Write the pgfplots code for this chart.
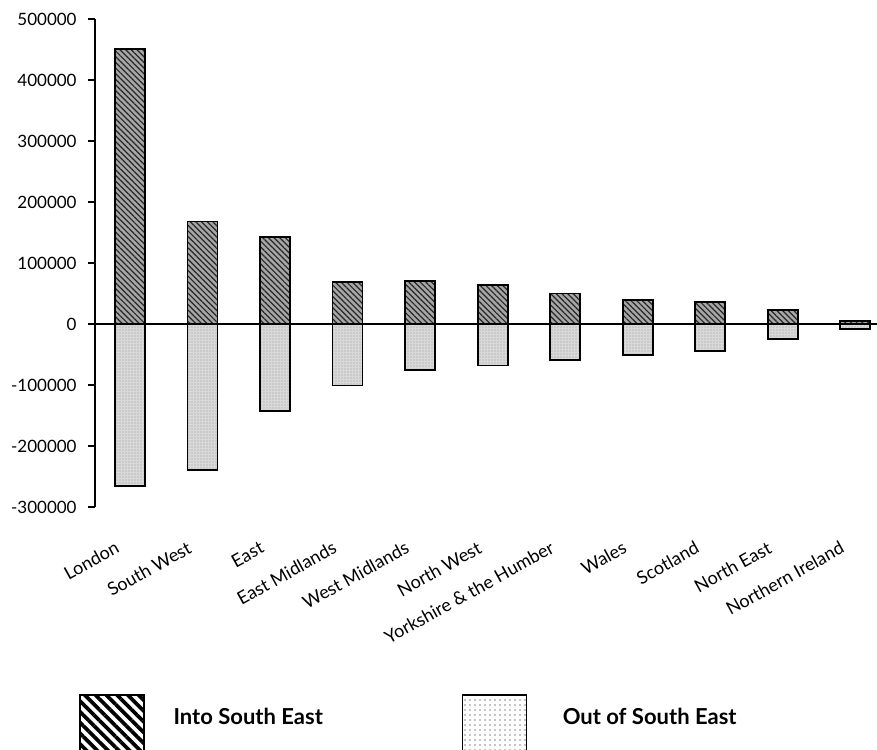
\documentclass[border=0pt]{standalone}
\usepackage{fontspec}
\setmainfont{Lato}
\usepackage{pgfplots}
\usepackage{pgfplotstable}
\pgfplotsset{compat=1.18}
\usetikzlibrary{patterns,patterns.meta}

% flows to and from the South East, by region
\pgfplotstableread{
idx into out
0 451000 -266000
1 168000 -240000
2 142000 -143000
3 69000 -101000
4 70000 -76000
5 64000 -68000
6 50000 -58500
7 39000 -50300
8 36600 -44300
9 23000 -25000
10 5000 -8000
}\flows

\begin{document}
\begin{tikzpicture}
\begin{axis}[
  width=391pt, height=244pt, scale only axis,
  xmin=-0.483, xmax=10.3,
  ymin=-300000, ymax=500000,
  scaled y ticks=false,
  axis y line*=left, axis x line*=bottom,
  x axis line style={draw=none},
  y axis line style={line width=0.75pt},
  ytick={-300000,-200000,-100000,0,100000,200000,300000,400000,500000},
  yticklabels={-300000,-200000,-100000,0,100000,200000,300000,400000,500000},
  tick align=outside,
  major tick length=3.5pt,
  ytick style={black, line width=0.75pt},
  xtick style={draw=none},
  yticklabel style={font=\fontsize{8.5}{10}\selectfont, inner sep=0pt, xshift=-5.5pt},
  xtick={0,1,2,3,4,5,6,7,8,9,10},
  xticklabels={London, South West, East, East Midlands, West Midlands, North West, Yorkshire \& the Humber, Wales, Scotland, North East, Northern Ireland},
  xticklabel style={font=\fontsize{9}{10}\selectfont, inner sep=0pt, anchor=north east, xshift=-8pt, yshift=-13pt, rotate=29},
  extra y ticks={0},
  extra y tick labels={},
  extra y tick style={grid=major, major grid style={black, line width=0.75pt}},
  legend columns=2,
  legend style={draw=none, fill=none, inner sep=0pt, at={(rel axis cs:0,0)}, anchor=north west,
    xshift=-8.5pt, yshift=-93pt, font=\fontsize{11}{13}\selectfont\bfseries, cells={anchor=west}},
]
\addplot[ybar, bar width=15pt, bar shift=0pt, draw=black, line width=0.9pt, fill=black!35,
  postaction={pattern={Lines[angle=-45,distance=2pt,line width=0.6pt]}, pattern color=black!85},
  forget plot] table[x=idx, y=into] {\flows};
\addplot[ybar, bar width=15pt, bar shift=0pt, draw=black, line width=0.9pt, fill=black!15,
  postaction={pattern={Dots[distance=1.5pt,radius=0.3pt]}, pattern color=black!40},
  forget plot] table[x=idx, y=out] {\flows};

\addlegendimage{legend image code/.code={
  \draw[black, line width=0.8pt, pattern={Lines[angle=-45,distance=3.8pt,line width=1.8pt]}] (0pt,-25pt) rectangle (32pt,11.5pt);
  \path (44.5pt,0pt);}}
\addlegendentry{\makebox[142pt][l]{Into South East}}
\addlegendimage{legend image code/.code={
  \draw[black, line width=0.8pt, pattern={Dots[distance=2.5pt,radius=0.35pt]}] (0pt,-25pt) rectangle (32pt,11.5pt);
  \path (48pt,0pt);}}
\addlegendentry{Out of South East}

\coordinate (sw) at (rel axis cs:0,0);
\coordinate (ne) at (rel axis cs:1,1);
\end{axis}
\pgfresetboundingbox
\path[use as bounding box] ([xshift=-47.5pt,yshift=-121.5pt]sw) rectangle ([yshift=9.5pt]ne);
\end{tikzpicture}
\end{document}
